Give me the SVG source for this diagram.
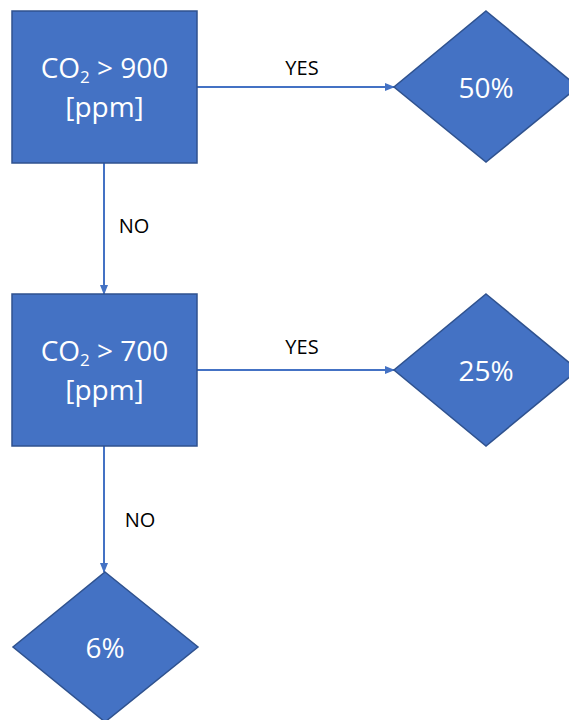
<svg xmlns="http://www.w3.org/2000/svg" width="569" height="720" viewBox="0 0 569 720">
  <style>
    .shape { fill: #4472C4; stroke: #2F528F; stroke-width: 1.5; }
    .inner { fill: #FFFFFF; font-family: "Open Sans", "Liberation Sans", sans-serif; font-size: 28px; text-anchor: middle; }
    .lbl { fill: #000000; font-family: "Open Sans", "Liberation Sans", sans-serif; font-size: 20px; text-anchor: middle; }
    .conn { stroke: #4472C4; stroke-width: 2; fill: none; marker-end: url(#arrow); }
  </style>
  <defs>
    <marker id="arrow" markerWidth="10" markerHeight="10" refX="9" refY="5" orient="auto" markerUnits="userSpaceOnUse">
      <path d="M0,1 L10,5 L0,9 Z" fill="#4472C4"/>
    </marker>
  </defs>
  <g id="connectors">
    <line class="conn" x1="197" y1="87" x2="394" y2="87"/>
    <line class="conn" x1="104" y1="163" x2="104" y2="294"/>
    <line class="conn" x1="197" y1="370" x2="394" y2="370"/>
    <line class="conn" x1="104" y1="446" x2="104" y2="572"/>
    <text class="lbl" x="302" y="75">YES</text>
    <text class="lbl" x="134" y="233">NO</text>
    <text class="lbl" x="302" y="354">YES</text>
    <text class="lbl" x="140" y="527">NO</text>
  </g>
  <g id="check900">
    <rect class="shape" x="12" y="11" width="185" height="152"/>
    <text class="inner" x="104.5" y="78">CO<tspan font-size="17" dy="5">2</tspan><tspan dy="-5"> &gt; 900</tspan></text>
    <text class="inner" x="104.5" y="117">[ppm]</text>
  </g>
  <g id="out50">
    <polygon class="shape" points="486,11 578,87 486,162 394,87"/>
    <text class="inner" x="486" y="98">50%</text>
  </g>
  <g id="check700">
    <rect class="shape" x="12" y="294" width="185" height="152"/>
    <text class="inner" x="104.5" y="361">CO<tspan font-size="17" dy="5">2</tspan><tspan dy="-5"> &gt; 700</tspan></text>
    <text class="inner" x="104.5" y="400">[ppm]</text>
  </g>
  <g id="out25">
    <polygon class="shape" points="486,294 578,370 486,446 394,370"/>
    <text class="inner" x="486" y="381">25%</text>
  </g>
  <g id="out6">
    <polygon class="shape" points="105,572 198,647 105,722 13,647"/>
    <text class="inner" x="105" y="658">6%</text>
  </g>
</svg>
